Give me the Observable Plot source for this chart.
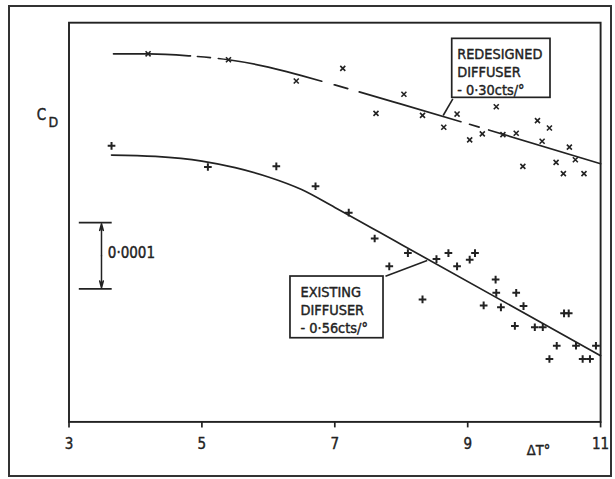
<!DOCTYPE html>
<html>
<head>
<meta charset="utf-8">
<script src="https://cdn.jsdelivr.net/npm/d3@7"></script>
<script src="https://cdn.jsdelivr.net/npm/@observablehq/plot@0.6"></script>
<style>
  body { margin: 0; background: #fff; }
  #wrap { position: relative; width: 615px; height: 479px; overflow: hidden; background: #fff; }
  #border { position: absolute; left: 8px; top: 5px; width: 600px; height: 468px; border: 2px solid #333; }
  #chart svg { position: absolute; left: 0; top: 0; }
</style>
</head>
<body>
<div id="wrap"><div id="border"></div><div id="chart"></div></div>
<script>
// ---- Data (C_D in units of 0.0001, relative offset; ΔT in degrees) ----
const xTicks = [3, 5, 7, 9, 11];

// Redesigned diffuser (x marks)
const redesignedDT = [4.19, 5.40, 6.42, 7.12, 7.62, 8.04, 8.32, 8.64, 8.84, 9.03, 9.22, 9.43, 9.53, 9.73, 9.83, 10.05, 10.12, 10.23, 10.33, 10.44, 10.53, 10.62, 10.75];
const redesignedCD = [5.55, 5.46, 5.14, 5.33, 4.65, 4.94, 4.62, 4.44, 4.64, 4.25, 4.34, 4.75, 4.33, 4.35, 3.85, 4.54, 4.23, 4.43, 3.91, 3.74, 4.14, 3.95, 3.74];

// Existing diffuser (+ marks)
const existingDT = [3.64, 5.09, 6.12, 6.71, 7.21, 7.60, 7.82, 8.10, 8.32, 8.53, 8.71, 8.84, 9.03, 9.11, 9.24, 9.42, 9.43, 9.50, 9.71, 9.73, 9.84, 10.01, 10.13, 10.23, 10.34, 10.45, 10.52, 10.63, 10.73, 10.84, 10.93];
const existingCD = [4.16, 3.84, 3.85, 3.55, 3.15, 2.76, 2.34, 2.54, 1.84, 2.45, 2.54, 2.34, 2.44, 2.54, 1.75, 2.14, 1.94, 1.72, 1.44, 1.94, 1.74, 1.42, 1.42, 0.94, 1.14, 1.63, 1.63, 1.14, 0.94, 0.94, 1.14];

// Fitted curves
const redesignedFitDT = [3.67, 4.2, 4.8, 5.4, 6.0, 6.5, 7.0, 8.0, 11];
const redesignedFitCD = [5.55, 5.55, 5.52, 5.46, 5.35, 5.22, 5.08, 4.79, 3.89];
const existingFitDT = [3.64, 4.3, 5.0, 5.5, 6.0, 6.5, 7.0, 8.0, 11];
const existingFitCD = [4.02, 4.00, 3.93, 3.83, 3.69, 3.50, 3.23, 2.67, 0.99];

// Labels
const redesignedLabel = ["REDESIGNED", "DIFFUSER", "- 0·30cts/°"];
const existingLabel = ["EXISTING", "DIFFUSER", "- 0·56cts/°"];
const scaleBarCD = [2, 3];          // the 0.0001 reference interval
const scaleBarLabel = "0·0001";
const xLabel = "ΔT°";
const yLabelMain = "C";
const yLabelSub = "D";

// ---- Annotation anchors (data coordinates) ----
const redesignedBox = {x1: 8.767, x2: 10.246, y1: 4.885, y2: 5.776, tx: 8.842, ty: 5.660, lx1: 8.631, ly1: 4.618, lx2: 8.776, ly2: 4.870};
const existingBox = {x1: 6.333, x2: 7.733, y1: 1.254, y2: 2.186, tx: 6.484, ty: 2.070, lx1: 8.390, ly1: 2.427, lx2: 7.763, ly2: 2.190};

const zip = (xs, ys) => xs.map((x, i) => ({x, y: ys[i]}));
const redesigned = zip(redesignedDT, redesignedCD);
const existing = zip(existingDT, existingCD);
const redesignedFit = zip(redesignedFitDT, redesignedFitCD);
const existingFit = zip(existingFitDT, existingFitCD);

const FONT = '"DejaVu Sans Condensed", "Liberation Sans Narrow", "DejaVu Sans", sans-serif';
const INK = "#222";
const mid = (scaleBarCD[0] + scaleBarCD[1]) / 2;
const heavy = {fill: INK, stroke: INK, strokeWidth: 0.4};

const chart = Plot.plot({
  width: 615,
  height: 479,
  marginLeft: 68.5,
  marginRight: 14.9,
  marginTop: 22.2,
  marginBottom: 57.6,
  style: {fontFamily: FONT, fontSize: "14px", color: INK, background: "transparent", fontStretch: "condensed"},
  x: {domain: [3, 11]},
  y: {domain: [-0.01, 6.02], axis: null},
  marks: [
    Plot.frame({stroke: INK, strokeWidth: 1.9}),
    Plot.axisX({ticks: xTicks, tickFormat: d => String(d), tickSize: 6, tickPadding: 10, fontSize: 15, label: null, strokeWidth: 1.7,
      textStroke: INK, textStrokeWidth: 0.4}),
    // fitted curves
    Plot.line(redesignedFit, {x: "x", y: "y", curve: "monotone-x", stroke: INK, strokeWidth: 1.7,
      strokeDasharray: "77,7,13,8,106,13,14,12,106,9,10,10,400"}),
    Plot.line(existingFit, {x: "x", y: "y", curve: "monotone-x", stroke: INK, strokeWidth: 1.7}),
    // data points
    Plot.dot(redesigned, {x: "x", y: "y", symbol: "times", r: 2.4, stroke: INK, strokeWidth: 1.6}),
    Plot.dot(existing, {x: "x", y: "y", symbol: "plus", r: 2.6, stroke: INK, strokeWidth: 2}),
    // leaders and label boxes
    Plot.link([redesignedBox, existingBox], {x1: "lx1", y1: "ly1", x2: "lx2", y2: "ly2", stroke: INK, strokeWidth: 1.6}),
    Plot.rect([redesignedBox, existingBox], {x1: "x1", x2: "x2", y1: "y1", y2: "y2", fill: "white", stroke: INK, strokeWidth: 1.7}),
    Plot.text([redesignedLabel.join("\n")], {x: redesignedBox.tx, y: redesignedBox.ty, text: d => d, textAnchor: "start", lineAnchor: "top", lineHeight: 1.25, fontSize: 14.4, ...heavy}),
    Plot.text([existingLabel.join("\n")], {x: existingBox.tx, y: existingBox.ty, text: d => d, textAnchor: "start", lineAnchor: "top", lineHeight: 1.25, fontSize: 14.4, ...heavy}),
    // scale bar for 0.0001
    Plot.ruleY(scaleBarCD, {x1: 3.155, x2: 3.65, stroke: INK, strokeWidth: 1.7}),
    Plot.arrow(scaleBarCD, {x1: 3.489, x2: 3.489, y1: () => mid, y2: d => d, stroke: INK, strokeWidth: 1.5, headLength: 7, headAngle: 30, insetEnd: 1}),
    Plot.text([scaleBarLabel], {x: 3.584, y: 2.541, text: d => d, textAnchor: "start", fontSize: 15, ...heavy}),
    // axis labels
    Plot.text([xLabel], {x: 10.066, y: -0.443, text: d => d, fontSize: 14.5, ...heavy}),
    Plot.text([yLabelMain], {x: 2.586, y: 4.618, text: d => d, fontSize: 15, ...heavy}),
    Plot.text([yLabelSub], {x: 2.764, y: 4.512, text: d => d, fontSize: 14, ...heavy})
  ]
});
document.getElementById("chart").appendChild(chart);
</script>
</body>
</html>
